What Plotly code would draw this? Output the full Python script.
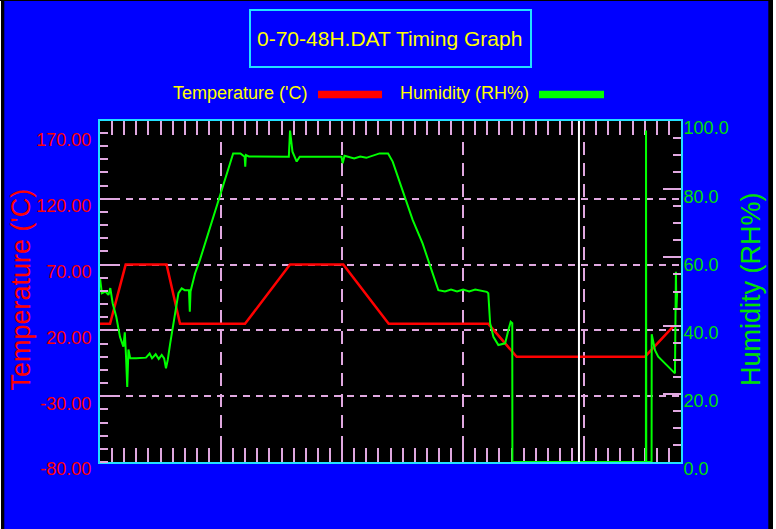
import plotly.graph_objects as go

# ---------------- data ----------------
temp_time = [0.0, 0.83, 2.12, 5.50, 6.61, 11.98, 15.70, 20.10, 23.85, 32.08, 34.42, 45.03, 47.36]
temp_c = [25, 25, 70, 70, 25, 25, 70, 70, 25, 25, 0, 0, 23]

hum_time = [0.00, 0.15, 0.45, 0.70, 0.85, 1.05, 1.35, 1.65, 1.93, 2.05, 2.15, 2.25, 2.35, 2.50,
            3.00, 3.80, 4.10, 4.30, 4.60, 4.85, 5.10, 5.30, 5.45, 5.60, 5.80, 6.20, 6.48, 6.75,
            7.00, 7.35, 7.42, 7.48, 7.85, 8.25, 11.00, 11.60, 11.95, 12.00, 12.05, 12.30, 15.60,
            15.70, 15.90, 16.25, 16.50, 19.95, 20.05, 20.20, 21.00, 21.50, 22.00, 23.10, 23.80,
            24.18, 25.83, 26.65, 27.95, 28.50, 29.00, 29.50, 30.00, 30.50, 31.00, 31.95, 32.08,
            32.23, 32.50, 32.91, 33.47, 33.74, 33.93, 34.06, 34.07, 45.10, 45.11, 45.13, 45.57,
            45.58, 45.85, 46.12, 46.82, 47.50, 47.58, 47.62, 47.68]
hum_rh = [54.0, 49.5, 50.0, 49.0, 51.0, 46.5, 42.5, 36.7, 33.8, 38.0, 31.0, 22.0, 33.0, 30.4,
          30.4, 30.6, 31.8, 30.4, 31.6, 30.2, 31.4, 30.4, 27.5, 30.0, 34.8, 43.1, 49.5, 50.9,
          50.4, 50.4, 44.1, 50.0, 55.3, 59.2, 90.5, 90.5, 89.5, 86.6, 90.0, 89.6, 89.5,
          97.2, 91.0, 88.1, 89.5, 89.5, 87.6, 89.8, 89.0, 89.6, 89.2, 90.5, 90.5,
          88.1, 71.0, 64.1, 50.4, 50.0, 50.6, 50.0, 50.6, 50.0, 50.6, 49.9, 49.5,
          40.7, 36.7, 34.3, 34.8, 38.7, 41.1, 40.7, 0.0, 0.0, 97.2, 0.0, 0.0,
          37.5, 32.8, 30.9, 28.4, 26.0, 55.8, 44.6, 49.9]

temp_ticks = [-80, -30, 20, 70, 120, 170]
temp_tick_text = ["%.2f" % v for v in temp_ticks]
temp_grid = [-30, 20, 70, 120]
rh_ticks = [0, 20, 40, 60, 80, 100]
rh_tick_text = ["%.1f" % v for v in rh_ticks]
hour_range = [0, 48]
temp_range = [-80, 179.1]
rh_range = [0, 100]
cursor_hour = 39.57

title_text = "0-70-48H.DAT Timing Graph"
temp_name = "Temperature ('C)"
hum_name = "Humidity (RH%)"

# ---------------- style ----------------
BLUE = "#0000FF"
PINK = "#E0A8E0"
CYAN = "#22E0FF"
YELLOW = "#FFFF00"
RED = "#FF0000"
GREEN = "#00FF00"
GREEN_TXT = "#00E000"
FONT = "Liberation Sans, Arial, sans-serif"

W, H = 776, 529
PL, PR, PT, PB = 100, 681, 121, 462


def px(x):
    return (x - PL) / (PR - PL)


def py(y):
    return (PB - y) / (PB - PT)


fig = go.Figure()
fig.add_trace(go.Scatter(x=temp_time, y=temp_c, mode="lines", name=temp_name,
                         line=dict(color=RED, width=2.5), yaxis="y", hoverinfo="skip"))
fig.add_trace(go.Scatter(x=temp_time, y=temp_c, mode="lines", showlegend=False,
                         line=dict(width=0), opacity=0, yaxis="y3", hoverinfo="skip"))
fig.add_trace(go.Scatter(x=hum_time, y=hum_rh, mode="lines", name=hum_name, cliponaxis=False,
                         line=dict(color=GREEN, width=2), yaxis="y2", hoverinfo="skip"))

fig.update_layout(
    width=W, height=H,
    margin=dict(l=PL, r=W - PR, t=PT, b=H - PB, pad=0),
    paper_bgcolor=BLUE, plot_bgcolor="#000000",
    showlegend=False,
    xaxis=dict(range=hour_range, tick0=0, dtick=10, showticklabels=False,
               ticks="inside", ticklen=14, tickwidth=2, tickcolor=PINK,
               showgrid=True, gridcolor=PINK, gridwidth=2, griddash="13px,8px",
               showline=True, linecolor=CYAN, linewidth=2, mirror="ticks",
               zeroline=False, layer="below traces",
               minor=dict(tick0=0, dtick=1, ticks="inside", ticklen=14, tickwidth=2,
                          tickcolor=PINK, showgrid=False)),
    yaxis=dict(range=temp_range, tickmode="array", tickvals=temp_ticks, ticktext=temp_tick_text,
               ticks="", showgrid=False, zeroline=False,
               showline=True, linecolor=CYAN, linewidth=2,
               tickfont=dict(family=FONT, size=18, color=RED),
               ticklabelshift=7, ticklabelstandoff=3,
               minor=dict(tickmode="linear", tick0=-80, dtick=10, ticks="inside", ticklen=8,
                          tickwidth=2, tickcolor=PINK, showgrid=False)),
    yaxis3=dict(range=temp_range, overlaying="y", side="left", tickmode="array",
                tickvals=temp_grid, showticklabels=False, ticks="inside", ticklen=18,
                tickwidth=2, tickcolor=PINK, showgrid=True, gridcolor=PINK, gridwidth=2,
                griddash="7px,6px", zeroline=False, showline=False),
    yaxis2=dict(range=rh_range, overlaying="y", side="right", tickmode="array",
                tickvals=rh_ticks, ticktext=rh_tick_text,
                ticks="inside", ticklen=18, tickwidth=2, tickcolor=PINK,
                showgrid=False, zeroline=False,
                showline=True, linecolor=CYAN, linewidth=2,
                tickfont=dict(family=FONT, size=18, color=GREEN_TXT),
                ticklabelshift=7, ticklabelstandoff=-3,
                minor=dict(tickmode="linear", tick0=0, dtick=5, ticks="inside", ticklen=8,
                           tickwidth=2, tickcolor=PINK, showgrid=False)),
)

shapes = [
    # cursor line
    dict(type="line", xref="x", yref="paper", x0=cursor_hour, x1=cursor_hour, y0=0, y1=1,
         line=dict(color="#FFFFFF", width=2), layer="above"),
    # title box
    dict(type="rect", xref="paper", yref="paper", x0=px(250), x1=px(531), y0=py(67), y1=py(10),
         line=dict(color=CYAN, width=2), fillcolor="rgba(0,0,0,0)"),
    # legend samples
    dict(type="rect", xref="paper", yref="paper", x0=px(318), x1=px(382), y0=py(98.3), y1=py(90.7),
         line=dict(width=0), fillcolor=RED),
    dict(type="rect", xref="paper", yref="paper", x0=px(539), x1=px(604), y0=py(98.3), y1=py(90.7),
         line=dict(width=0), fillcolor=GREEN),
    # window frame
    dict(type="rect", xref="paper", yref="paper", x0=px(0), x1=px(1), y0=py(H), y1=py(0),
         line=dict(width=0), fillcolor="#FFFFFF"),
    dict(type="rect", xref="paper", yref="paper", x0=px(1), x1=px(4.3), y0=py(H), y1=py(0),
         line=dict(width=0), fillcolor="#000000"),
    dict(type="rect", xref="paper", yref="paper", x0=px(768.3), x1=px(773), y0=py(H), y1=py(0),
         line=dict(width=0), fillcolor="#000000"),
    dict(type="rect", xref="paper", yref="paper", x0=px(773), x1=px(W), y0=py(H), y1=py(0),
         line=dict(width=0), fillcolor="#FFFFFF"),
    dict(type="rect", xref="paper", yref="paper", x0=px(0), x1=px(773), y0=py(1), y1=py(0),
         line=dict(width=0), fillcolor="#000000"),
]
fig.update_layout(shapes=shapes)

annotations = [
    dict(text=title_text, xref="paper", yref="paper", x=px(389.5), y=py(38),
         xanchor="center", yanchor="middle", showarrow=False,
         font=dict(family=FONT, size=21, color=YELLOW)),
    dict(text=temp_name, xref="paper", yref="paper", x=px(309), y=py(93),
         xanchor="right", yanchor="middle", showarrow=False,
         font=dict(family=FONT, size=18, color=YELLOW)),
    dict(text=hum_name, xref="paper", yref="paper", x=px(531), y=py(93),
         xanchor="right", yanchor="middle", showarrow=False,
         font=dict(family=FONT, size=18, color=YELLOW)),
    dict(text=temp_name, xref="paper", yref="paper", x=px(20), y=py(289.5),
         xanchor="center", yanchor="middle", showarrow=False, textangle=-90,
         font=dict(family=FONT, size=27, color=RED)),
    dict(text=hum_name, xref="paper", yref="paper", x=px(751), y=py(289),
         xanchor="center", yanchor="middle", showarrow=False, textangle=-90,
         font=dict(family=FONT, size=27, color=GREEN_TXT)),
]
fig.update_layout(annotations=annotations)

fig.write_html("out.html", config={"displayModeBar": False},
               post_script="document.body.style.margin='0';document.body.style.overflow='hidden';")
